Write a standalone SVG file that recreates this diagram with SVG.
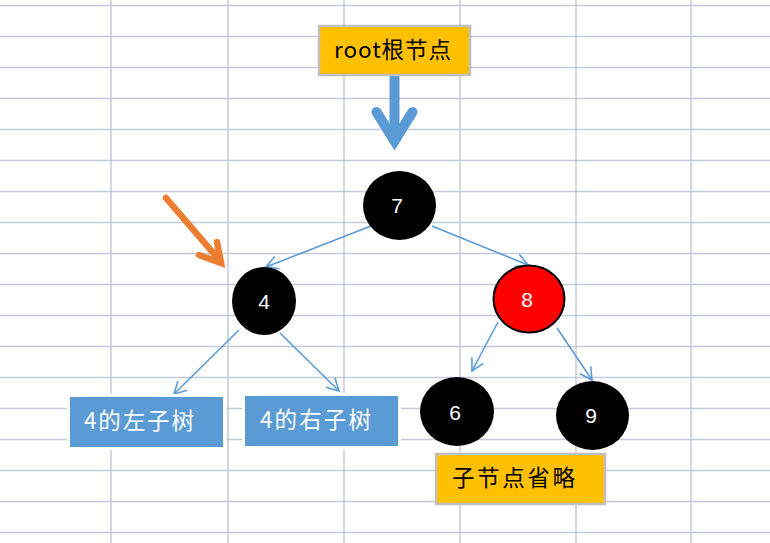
<svg xmlns="http://www.w3.org/2000/svg" width="770" height="543" viewBox="0 0 770 543">
<defs>
<style>
.grid line{stroke:#c3cada;stroke-width:1.5}
.node{fill:#000}
.num{fill:#fff;font-family:"Liberation Sans","Noto Sans CJK SC",sans-serif;font-size:21px;text-anchor:middle}
.lbl{font-family:"Noto Sans CJK SC","Liberation Sans",sans-serif;font-size:22.5px}
.ybox{fill:#ffc000;stroke:#bfbfbf;stroke-width:2.5}
.bbox{fill:#5b9bd5}
.halo{fill:#fff}
.edge{stroke:#5b9bd5;stroke-width:1.6;fill:none;marker-end:url(#arr)}
</style>
<marker id="arr" markerUnits="userSpaceOnUse" viewBox="-14 -9 16 18" markerWidth="16" markerHeight="18" refX="0" refY="0" orient="auto">
<path d="M-12,-6.5 L0,0 L-12,6.5" fill="none" stroke="#5b9bd5" stroke-width="1.6"/>
</marker>
</defs>
<rect width="770" height="543" fill="#fff"/>
<g class="grid">
<line x1="111" y1="0" x2="111" y2="543"/><line x1="228" y1="0" x2="228" y2="543"/><line x1="344" y1="0" x2="344" y2="543"/><line x1="460" y1="0" x2="460" y2="543"/><line x1="576" y1="0" x2="576" y2="543"/><line x1="691" y1="0" x2="691" y2="543"/>
<line x1="0" y1="5.5" x2="770" y2="5.5"/><line x1="0" y1="36.5" x2="770" y2="36.5"/><line x1="0" y1="67.5" x2="770" y2="67.5"/><line x1="0" y1="98.5" x2="770" y2="98.5"/><line x1="0" y1="129.5" x2="770" y2="129.5"/><line x1="0" y1="160.5" x2="770" y2="160.5"/><line x1="0" y1="191.5" x2="770" y2="191.5"/><line x1="0" y1="222.5" x2="770" y2="222.5"/><line x1="0" y1="253.5" x2="770" y2="253.5"/><line x1="0" y1="284.5" x2="770" y2="284.5"/><line x1="0" y1="315.5" x2="770" y2="315.5"/><line x1="0" y1="346.5" x2="770" y2="346.5"/><line x1="0" y1="377.5" x2="770" y2="377.5"/><line x1="0" y1="408.5" x2="770" y2="408.5"/><line x1="0" y1="439.5" x2="770" y2="439.5"/><line x1="0" y1="470.5" x2="770" y2="470.5"/><line x1="0" y1="501.5" x2="770" y2="501.5"/><line x1="0" y1="532.5" x2="770" y2="532.5"/>
</g>
<g id="connectors">
<path d="M394.5,76 L394.5,140" stroke="#5b9bd5" stroke-width="10" fill="none"/>
<path d="M376.5,112 L394.5,141 L412.5,112" stroke="#5b9bd5" stroke-width="10" fill="none" stroke-linecap="round" stroke-linejoin="miter"/>
<path d="M166,198 L221,262" stroke="#ed7d31" stroke-width="6.5" fill="none" stroke-linecap="round"/>
<path d="M199,255 L221,263 L217,242" stroke="#ed7d31" stroke-width="6.5" fill="none" stroke-linecap="round" stroke-linejoin="miter"/>
<line class="edge" x1="371" y1="226" x2="266" y2="267"/>
<line class="edge" x1="432" y1="226" x2="528" y2="265"/>
<line class="edge" x1="239" y1="330" x2="174" y2="394"/>
<line class="edge" x1="280" y1="333" x2="339" y2="391"/>
<line class="edge" x1="498" y1="322" x2="472" y2="371"/>
<line class="edge" x1="557" y1="328" x2="592" y2="380"/>
</g>
<g id="root-label">
<rect class="ybox" x="319" y="26" width="151" height="49"/>
<text class="lbl" x="334" y="58" textLength="117" lengthAdjust="spacing">root根节点</text>
</g>
<g id="n7"><ellipse class="node" cx="399.5" cy="205.5" rx="36.5" ry="34.5"/><text class="num" x="397" y="213">7</text></g>
<g id="n4"><ellipse class="node" cx="264" cy="301" rx="32" ry="34"/><text class="num" x="264" y="309">4</text></g>
<g id="n8"><ellipse cx="529" cy="299" rx="35.5" ry="33.5" fill="#ff0000" stroke="#000" stroke-width="2"/><text class="num" x="527" y="307">8</text></g>
<g id="n6"><ellipse class="node" cx="457" cy="411.5" rx="37" ry="34.5"/><text class="num" x="455" y="420">6</text></g>
<g id="n9"><ellipse class="node" cx="592.5" cy="415.5" rx="36.5" ry="34.5"/><text class="num" x="591" y="423">9</text></g>
<g id="left-subtree">
<rect class="halo" x="67" y="394" width="159" height="56"/>
<rect class="bbox" x="70" y="397" width="153" height="50"/>
<text class="lbl" x="84" y="429" fill="#fff" textLength="110" lengthAdjust="spacing">4的左子树</text>
</g>
<g id="right-subtree">
<rect class="halo" x="242" y="393" width="159" height="56"/>
<rect class="bbox" x="245" y="396" width="153" height="50"/>
<text class="lbl" x="260" y="428" fill="#fff" textLength="111" lengthAdjust="spacing">4的右子树</text>
</g>
<g id="omit-label">
<rect class="ybox" x="436" y="454" width="169" height="50"/>
<text class="lbl" x="452" y="486" textLength="123" lengthAdjust="spacing">子节点省略</text>
</g>
</svg>
